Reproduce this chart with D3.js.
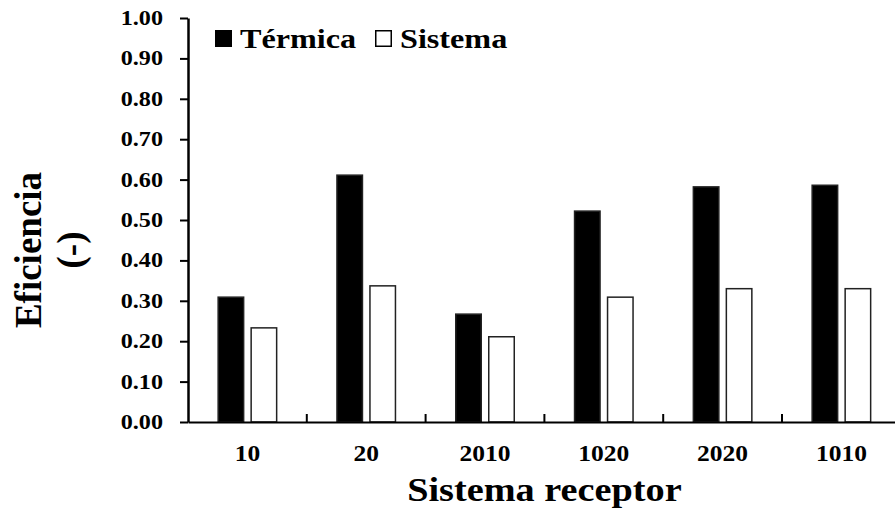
<!DOCTYPE html>
<html>
<head>
<meta charset="utf-8">
<script src="https://cdn.jsdelivr.net/npm/d3@7/dist/d3.min.js"></script>
<style>
  html, body { margin: 0; padding: 0; background: #fff; }
  svg { display: block; }
  text { font-family: "Liberation Serif", "Times New Roman", serif; font-weight: bold; fill: #000; }
</style>
</head>
<body>
<svg id="chart" width="895" height="520"></svg>
<script>
// ---- data ----
const categories = ["10", "20", "2010", "1020", "2020", "1010"];
const seriesNames = ["Térmica", "Sistema"];
const termica = [0.309, 0.611, 0.267, 0.522, 0.582, 0.586];
const sistema = [0.233, 0.337, 0.211, 0.309, 0.330, 0.330];
const yTicks = [0.00, 0.10, 0.20, 0.30, 0.40, 0.50, 0.60, 0.70, 0.80, 0.90, 1.00];
const xTitle = "Sistema receptor";
const yTitle = ["Eficiencia", "(-)"];

// ---- layout ----
const svg = d3.select("#chart");
svg.append("rect").attr("width", 895).attr("height", 520).attr("fill", "#fff");

const plotLeft = 188, plotTop = 18, plotBottom = 422, slot = 118.8;
const plotRight = plotLeft + slot * categories.length;
const groupW = 60;

const y = d3.scaleLinear().domain([0, 1]).range([plotBottom, plotTop]);
const x0 = d3.scaleBand().domain(categories).range([plotLeft, plotRight]).padding(0);
const x1 = d3.scaleBand().domain(seriesNames).range([0, groupW]).paddingInner(6 / 33).paddingOuter(0);
const fills = { "Térmica": "#000", "Sistema": "#fff" };

const table = categories.map((c, i) => ({ cat: c, vals: [
  { s: "Térmica", v: termica[i] },
  { s: "Sistema", v: sistema[i] }
]}));

// bars
const gBars = svg.append("g");
const groups = gBars.selectAll("g.grp").data(table).join("g")
  .attr("transform", d => `translate(${x0(d.cat) + (x0.bandwidth() - groupW) / 2},0)`);
groups.selectAll("rect").data(d => d.vals).join("rect")
  .attr("x", d => x1(d.s) + 0.75)
  .attr("width", x1.bandwidth() - 1.5)
  .attr("y", d => y(d.v))
  .attr("height", d => y(0) - y(d.v))
  .attr("fill", d => fills[d.s])
  .attr("stroke", "#222")
  .attr("stroke-width", 1.5);

// y axis
const yAxis = svg.append("g").attr("transform", `translate(${plotLeft},0)`)
  .call(d3.axisLeft(y).tickValues(yTicks).tickFormat(d3.format(".2f")).tickSize(8).tickSizeOuter(0));
yAxis.select(".domain").attr("stroke", "#000").attr("stroke-width", 2.5);
yAxis.selectAll(".tick line").attr("stroke", "#000").attr("stroke-width", 2);
yAxis.selectAll(".tick text")
  .attr("x", 0).attr("dy", null)
  .attr("transform", "translate(-25,6.5) scale(1.15,1)")
  .attr("text-anchor", "end")
  .style("font-size", "21px")
  .style("font-family", "'Liberation Serif', 'Times New Roman', serif")
  .style("font-weight", "bold");

// x axis
const xAxis = svg.append("g").attr("transform", `translate(0,${plotBottom})`)
  .call(d3.axisBottom(x0).tickSize(0).tickSizeOuter(0));
xAxis.select(".domain").attr("stroke", "#000").attr("stroke-width", 2);
xAxis.selectAll(".tick text")
  .attr("y", 0).attr("dy", null)
  .attr("transform", "translate(0,39) scale(1.11,1)")
  .style("font-size", "23px")
  .style("font-family", "'Liberation Serif', 'Times New Roman', serif")
  .style("font-weight", "bold");
// boundary ticks (pointing up)
svg.append("g").selectAll("line").data(categories.slice(1)).join("line")
  .attr("x1", d => x0(d)).attr("x2", d => x0(d))
  .attr("y1", plotBottom).attr("y2", plotBottom - 8)
  .attr("stroke", "#000").attr("stroke-width", 2);

// axis titles
svg.append("text")
  .attr("transform", `translate(${(plotLeft + plotRight) / 2},501) scale(1.16,1)`)
  .attr("text-anchor", "middle")
  .style("font-size", "33px")
  .text(xTitle);

svg.append("text")
  .attr("transform", "translate(41,250) rotate(-90)")
  .attr("text-anchor", "middle")
  .style("font-size", "37px")
  .text(yTitle[0]);
svg.append("text")
  .attr("transform", "translate(83,250) rotate(-90)")
  .attr("text-anchor", "middle")
  .style("font-size", "37px")
  .text(yTitle[1]);

// legend
const legendX = [215, 375];
const leg = svg.append("g");
seriesNames.forEach((s, i) => {
  leg.append("rect")
    .attr("x", legendX[i] + 0.75).attr("y", 30.75)
    .attr("width", 15.5).attr("height", 15.5)
    .attr("fill", fills[s]).attr("stroke", "#000").attr("stroke-width", 1.5);
  leg.append("text")
    .attr("transform", `translate(${legendX[i] + 25},48) scale(1.15,1)`)
    .style("font-size", "28px")
    .text(s);
});
</script>
</body>
</html>
